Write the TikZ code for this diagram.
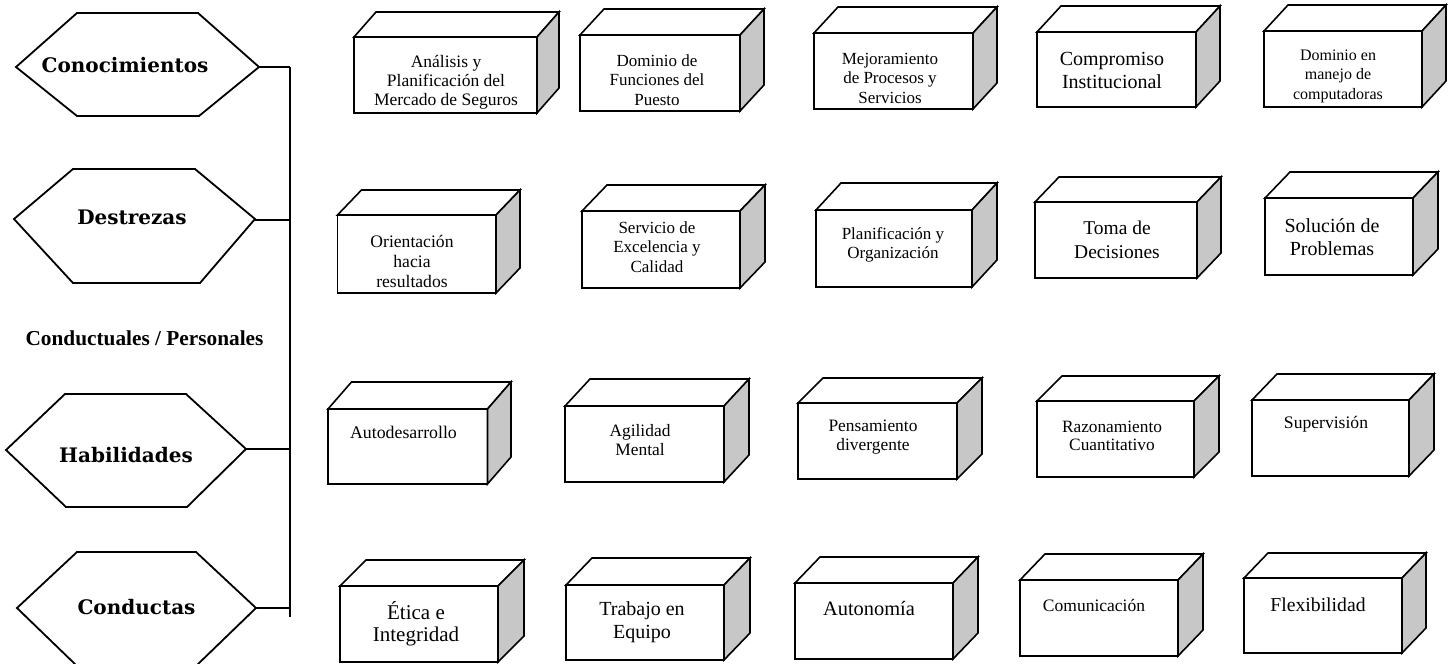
\documentclass[tikz,border=0pt]{standalone}
\usepackage{fontspec}
\setmainfont{Liberation Serif}
\newfontfamily\hexfont{DejaVu Serif}
\tikzset{
  boxline/.style={draw=black, line width=1.6pt, line join=miter},
  frontface/.style={boxline, fill=white, rectangle, inner sep=0pt, outer sep=0pt},
  sideface/.style={boxline, fill=black!22},
  topface/.style={boxline, fill=white},
  boxtext/.style={align=center, inner sep=0pt, text=black},
  hexshape/.style={draw=black, line width=1.8pt, fill=white, line join=miter},
  hexlabel/.style={font=\hexfont\bfseries\fontsize{20}{23}\selectfont, inner sep=0pt},
  sidelabel/.style={font=\bfseries\fontsize{21.3}{25}\selectfont, inner sep=0pt},
  connector/.style={draw=black, line width=1.4pt},
}
% #1 name, #2 left, #3 top, #4 right, #5 bottom, #6 depth x, #7 depth y
\newcommand\cubebox[7]{%
  \node[frontface, minimum width={(#4-#2)*1pt}, minimum height={(#5-#3)*1pt}]
    (#1) at ({(#2+#4)/2},{(#3+#5)/2}) {};
  \draw[topface] (#1.north west) -- ++(#6,-#7) -- ++(#4-#2,0) -- (#1.north east) -- cycle;
  \draw[sideface] (#1.north east) -- ++(#6,-#7) -- ++(0,#5-#3) -- (#1.south east) -- cycle;
}
\newcommand\fs[2]{\fontsize{#1}{#2}\selectfont}
\begin{document}
\begin{tikzpicture}[x=1pt,y=-1pt]
\useasboundingbox (0,0) rectangle (1452,664);

% hexagons
\draw[hexshape] (16,67) -- (77,13) -- (198,13) -- (259,67) -- (199,116) -- (77,116) -- cycle;
\coordinate (h1e) at (259,67);
\node[hexlabel] (h1) at (125,65) {Conocimientos};

\draw[hexshape] (14,219) -- (73,169) -- (195,169) -- (255,219) -- (200,283) -- (73,283) -- cycle;
\coordinate (h2e) at (255,220);
\node[hexlabel] (h2) at (132,217) {Destrezas};

\draw[hexshape] (6,450) -- (65,394) -- (186,394) -- (246,449) -- (187,507) -- (66,507) -- cycle;
\coordinate (h3e) at (246,449);
\node[hexlabel] (h3) at (126,455) {Habilidades};

\draw[hexshape] (17,608) -- (77,552) -- (196,552) -- (256,608) -- (196,666) -- (77,666) -- cycle;
\coordinate (h4e) at (256,608);
\node[hexlabel] (h4) at (136.5,607) {Conductas};

\node[sidelabel] (cp) at (144.5,338) {Conductuales / Personales};

% spine and connectors
\coordinate (sTop) at (290,67);
\coordinate (sBot) at (290,617);
\draw[connector] (sTop) -- (sBot);
\draw[connector] (h1e) -- (sTop);
\draw[connector] (h2e) -- (h2e -| sTop);
\draw[connector] (h3e) -- (h3e -| sTop);
\draw[connector] (h4e) -- (h4e -| sTop);

% row 1
\cubebox{b1}{354}{37}{537}{113}{22}{25}
\cubebox{b2}{580}{35}{740}{111}{24}{26}
\cubebox{b3}{814}{33}{973}{109}{24}{26}
\cubebox{b4}{1037}{32}{1196}{107}{24}{26}
\cubebox{b5}{1264}{31}{1422}{107}{24}{26}
% row 2
\cubebox{b6}{337.5}{215}{496}{293}{24}{25}
\cubebox{b7}{582}{211}{740}{288}{25}{26}
\cubebox{b8}{816}{210}{972}{287}{25}{27}
\cubebox{b9}{1035}{202}{1197}{278}{24}{25}
\cubebox{b10}{1265}{198}{1413}{275}{25}{26}
% row 3
\cubebox{b11}{328}{409}{487.5}{484}{23.5}{27}
\cubebox{b12}{565}{406}{724}{482}{25}{27}
\cubebox{b13}{798}{403}{957}{479}{25}{25}
\cubebox{b14}{1037}{401}{1194}{477}{25}{25}
\cubebox{b15}{1252}{400}{1409}{476}{25}{26}
% row 4
\cubebox{b16}{340}{586}{498}{662}{26}{26}
\cubebox{b17}{566}{585}{724}{660}{26}{27}
\cubebox{b18}{795}{583}{953}{659}{25}{26}
\cubebox{b19}{1020}{580}{1178}{656}{25}{26}
\cubebox{b20}{1244}{578}{1402}{653}{24}{25}

% texts
\node[boxtext, font=\fs{17.5}{19}] (t1) at (446,82) {Análisis y\\Planificación del\\Mercado de Seguros};
\node[boxtext, font=\fs{17}{19.5}] (t2) at (657,80) {Dominio de\\Funciones del\\Puesto};
\node[boxtext, font=\fs{17}{19.5}] (t3) at (890,78) {Mejoramiento\\de Procesos y\\Servicios};
\node[boxtext, font=\fs{20}{23}] (t4) at (1112,70) {Compromiso\\Institucional};
\node[boxtext, font=\fs{16}{19.5}] (t5) at (1338,76) {Dominio en\\manejo de\\computadoras};

\node[boxtext, font=\fs{17.6}{20}] (t6) at (412,261) {Orientación\\hacia\\resultados};
\node[boxtext, font=\fs{17}{19.5}] (t7) at (657,247) {Servicio de\\Excelencia y\\Calidad};
\node[boxtext, font=\fs{17}{19.5}] (t8) at (893,245) {Planificación y\\Organización};
\node[boxtext, font=\fs{19.5}{23.5}] (t9) at (1117,240) {Toma de\\Decisiones};
\node[boxtext, font=\fs{20}{23.5}] (t10) at (1332,237) {Solución de\\Problemas};

\node[boxtext, font=\fs{17.8}{20}] (t11) at (403.5,432) {Autodesarrollo};
\node[boxtext, font=\fs{17.4}{19}] (t12) at (640,440) {Agilidad\\Mental};
\node[boxtext, font=\fs{17.4}{19}] (t13) at (873,437) {Pensamiento\\divergente};
\node[boxtext, font=\fs{17.3}{18.5}] (t14) at (1112,436) {Razonamiento\\Cuantitativo};
\node[boxtext, font=\fs{17.6}{20}] (t15) at (1326,424) {Supervisión};

\node[boxtext, font=\fs{21}{22}] (t16) at (416,624) {Ética e\\Integridad};
\node[boxtext, font=\fs{20}{22.5}] (t17) at (642,622) {Trabajo en\\Equipo};
\node[boxtext, font=\fs{20.4}{23}] (t18) at (869,609) {Autonomía};
\node[boxtext, font=\fs{17.5}{20}] (t19) at (1094,605) {Comunicación};
\node[boxtext, font=\fs{19.7}{22}] (t20) at (1318,605) {Flexibilidad};
\end{tikzpicture}
\end{document}
